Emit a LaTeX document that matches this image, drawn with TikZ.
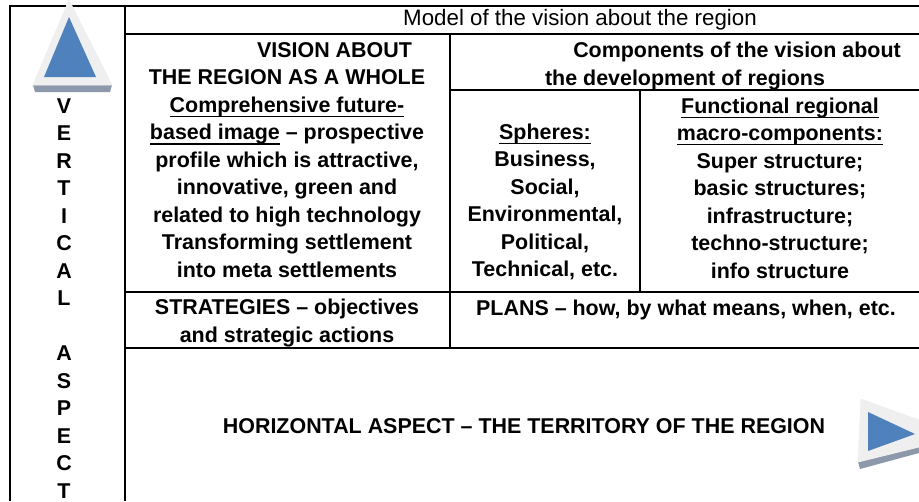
\documentclass[tikz,border=0pt]{standalone}
\usepackage{fontspec}
\setmainfont{Liberation Sans}
\definecolor{arrowblue}{HTML}{4F81BD}
\definecolor{arrowrim}{HTML}{EFEFEF}
\definecolor{arrowshade}{HTML}{8D99AB}
\newcommand{\undl}[1]{\setbox0\hbox{#1}\rlap{\rule[-2.7pt]{\wd0}{0.7pt}}\box0\relax}
\begin{document}
\begin{tikzpicture}[x=0.02cm, y=-0.02cm,
	cell/.style={align=center, font=\bfseries\fontsize{12.2}{15.65}\selectfont},
	rule/.style={line width=1.1pt},
	]
	\useasboundingbox (0,0) rectangle (919,501);

	% table lines
	\draw[rule] (10,501) -- (10,6) -- (919,6);
	\draw[rule] (125,6) -- (125,501);
	\draw[rule] (125,34) -- (919,34);
	\draw[rule] (450,34) -- (450,348);
	\draw[rule] (450,90) -- (919,90);
	\draw[rule] (640,90) -- (640,292);
	\draw[rule] (125,292) -- (919,292);
	\draw[rule] (125,348) -- (919,348);

	% arrows
	\fill[arrowshade] (33,85) -- (112,85) -- (110,92) -- (35,92) -- cycle;
	\filldraw[fill=arrowrim, draw=white!88!gray] (33,85) -- (112,85) -- (69,0) -- cycle;
	\fill[arrowblue] (44,77) -- (96,77) -- (69,17) -- cycle;

	\fill[arrowshade] (858,462) -- (919,447) -- (919,453) -- (860,469) -- cycle;
	\filldraw[fill=arrowrim, draw=white!88!gray] (861,399) -- (919,420) -- (919,447) -- (858,462) -- cycle;
	\fill[arrowblue] (868,412) -- (868,451) -- (915,434) -- cycle;

	\node[font=\fontsize{12.7}{15.65}\selectfont] (model) at (580,20) {Model of the vision about the region};

	\node[cell] (vision) at (287,160) {\hspace*{1.9cm}VISION ABOUT\\
		THE REGION AS A WHOLE\\
		\undl{Comprehensive future-}\\
		\undl{based image} -- prospective\\
		profile which is attractive,\\
		innovative, green and\\
		related to high technology\\
		Transforming settlement\\
		into meta settlements};
	\node[cell] (comp) at (685,66) {\hspace*{2.08cm}Components of the vision about\\
		the development of regions};
	\node[cell] (spheres) at (545,202) {\undl{Spheres:}\\
		Business,\\ Social,\\ Environmental,\\ Political,\\ Technical, etc.};
	\node[cell] (func) at (780,188) {\undl{Functional regional}\\
		\undl{macro-components:}\\
		Super structure;\\ basic structures;\\ infrastructure;\\
		techno-structure;\\ info structure};

	\node[cell] (strat) at (287,323) {STRATEGIES -- objectives\\ and strategic actions};
	\node[cell] (plans) at (686,310) {PLANS -- how, by what means, when, etc.};
	\node[cell] (horiz) at (524,426) {HORIZONTAL ASPECT -- THE TERRITORY OF THE REGION};

	\node[cell] (vert) at (64,298.5) {V\\ E\\ R\\ T\\ I\\ C\\ A\\ L\\ \mbox{}\\
		A\\ S\\ P\\ E\\ C\\ T};
\end{tikzpicture}
\end{document}
